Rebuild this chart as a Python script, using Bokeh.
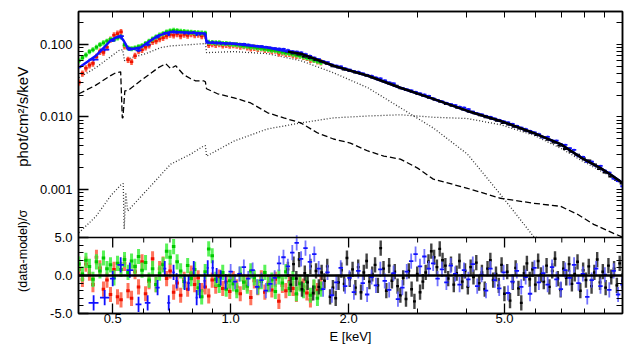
import math
import numpy as np
from bokeh.plotting import figure
from bokeh.layouts import row
from bokeh.models import (FixedTicker, LogAxis, LinearAxis, Range1d, LogScale, Span)
from bokeh.core.properties import value
from bokeh.embed import file_html
from bokeh.resources import INLINE

FONT = "Liberation Sans"

# ---------------- axis ticks / ranges ----------------
x_major = [0.5, 1.0, 2.0, 5.0]
x_major_labels = ["0.5", "1.0", "2.0", "5.0"]
x_minor = [0.6, 0.7, 0.8, 0.9, 3.0, 4.0, 6.0, 7.0, 8.0, 9.0]
y_major = [0.001, 0.01, 0.1]
y_major_labels = ["0.001", "0.010", "0.100"]
y_minor = [m * 10.0 ** k for k in (-4, -3, -2, -1) for m in range(2, 10)]
r_major = [-5.0, 0.0, 5.0]
r_major_labels = ["-5.0", "0.0", "5.0"]
r_minor = [-4, -3, -2, -1, 1, 2, 3, 4]
axis_titles = ["phot/cm²/s/keV", "(data-model)/σ"]

E_LO, E_HI = 0.409, 10.0
FLUX_LO, FLUX_HI = 2.15e-4, 0.287
RES_LO, RES_HI = -5.0, 5.0

# ---------------- model curves ----------------
model_E = [0.41, 0.453, 0.494, 0.509, 0.524, 0.533, 0.549, 0.589, 0.625, 0.654, 0.703, 0.768,
           0.853, 0.862, 0.868, 1.02, 1.24, 1.40, 1.51, 1.83, 2.24, 2.71, 3.29, 4.02, 4.88, 5.93,
           6.95, 7.96, 8.79, 9.4, 10.0]
model_F = [0.048, 0.070, 0.114, 0.125, 0.128, 0.114, 0.085, 0.091, 0.114, 0.133, 0.150, 0.147,
           0.142, 0.141, 0.107, 0.103, 0.091, 0.080, 0.075, 0.051, 0.0371, 0.0253, 0.0178, 0.0121,
           0.0088, 0.0060, 0.0042, 0.0026, 0.00196, 0.00155, 0.00122]

soft_E = [0.41, 0.453, 0.494, 0.518, 0.530, 0.536, 0.549, 0.607, 0.663, 0.703, 0.853, 0.862,
          0.868, 1.02, 1.24, 1.51, 1.83, 2.24, 2.61, 3.29, 4.02, 4.88, 5.93, 6.05]
soft_F = [0.0348, 0.048, 0.068, 0.0825, 0.085, 0.060, 0.064, 0.075, 0.091, 0.096, 0.103, 0.105,
          0.0774, 0.080, 0.075, 0.060, 0.0408, 0.0253, 0.0152, 0.00703, 0.00306, 0.00085,
          0.000222, 0.000216]

hard_E = [0.41, 0.453, 0.494, 0.524, 0.532, 0.535, 0.540, 0.546, 0.589, 0.663, 0.703, 0.791,
          0.853, 0.862, 0.868, 1.02, 1.24, 1.51, 1.83, 2.24, 2.71, 3.29, 4.02, 4.88, 5.93, 6.95,
          7.96, 9.16, 10.0]
hard_F = [0.00025, 0.00042, 0.00081, 0.00114, 0.0012, 0.00028, 0.0009, 0.0005, 0.00078, 0.00157,
          0.00222, 0.00306, 0.00396, 0.0040, 0.00287, 0.00464, 0.0068, 0.00826, 0.0097, 0.0103,
          0.0107, 0.0099, 0.0095, 0.0078, 0.0056, 0.0037, 0.0024, 0.0016, 0.00118]

dash_E = [0.41, 0.453, 0.494, 0.509, 0.524, 0.529, 0.531, 0.537, 0.549, 0.589, 0.654, 0.683,
          0.703, 0.724, 0.758, 0.791, 0.814, 0.853, 0.862, 0.868, 0.926, 1.02, 1.125, 1.243,
          1.366, 1.51, 1.667, 1.83, 2.02, 2.24, 2.46, 2.71, 3.00, 3.29, 4.02, 4.88, 5.93, 6.95,
          7.68, 8.44, 9.49, 10.0]
dash_F = [0.0209, 0.0275, 0.0373, 0.0408, 0.042, 0.0097, 0.0097, 0.0229, 0.0235, 0.0316, 0.048,
          0.0545, 0.0464, 0.0511, 0.0386, 0.0337, 0.0316, 0.0316, 0.0306, 0.0245, 0.0209, 0.0184,
          0.0156, 0.0114, 0.0097, 0.00826, 0.0060, 0.00495, 0.00435, 0.00338, 0.00287, 0.00261,
          0.00196, 0.00138, 0.00103, 0.00075, 0.00064, 0.00058, 0.00045, 0.000327, 0.000245,
          0.000218]

# ---------------- data: red ----------------
red_E = np.geomspace(0.41, 1.70, 70)
red_F = [0.030, 0.040, 0.047, 0.052, 0.055, 0.068, 0.080, 0.078, 0.092, 0.118,
         0.135, 0.142, 0.150, 0.095, 0.062, 0.058, 0.070, 0.082, 0.085, 0.092,
         0.098, 0.110, 0.112, 0.120, 0.125, 0.132, 0.138, 0.135, 0.140, 0.132,
         0.138, 0.134, 0.140, 0.136, 0.138, 0.132, 0.134, 0.100, 0.102, 0.100,
         0.102, 0.098, 0.100, 0.097, 0.099, 0.097, 0.094, 0.096, 0.092, 0.089,
         0.091, 0.088, 0.089, 0.085, 0.086, 0.082, 0.083, 0.076, 0.078, 0.075,
         0.075, 0.072, 0.070, 0.071, 0.068, 0.066, 0.062, 0.062, 0.059, 0.057]
red_R = [0.8, -0.5, 1.5, 0.3, -1.2, 2.4, 1.0, -1.8, -0.6, -2.5,
         0.8, -2.8, -3.2, 1.6, -2.0, -3.0, 0.5, -1.5, 1.8, -2.4,
         -0.8, 2.2, -1.2, 0.9, 1.5, -0.4, 0.6, -2.2, -1.0, -2.6,
         -0.5, -1.8, 0.3, -1.2, -0.3, -2.0, -1.5, -2.7, -0.6, -1.4,
         -0.2, -1.7, -0.9, -2.1, -0.4, -1.5, -2.4, -0.8, -1.1, -2.9,
         -0.7, -1.6, -0.3, -2.2, -1.0, -1.9, -0.5, -3.4, -1.3, -2.0,
         -0.8, -1.7, -2.5, -0.9, -1.4, -2.3, -3.2, -1.6, -2.0, -1.1]
red_relerr = 0.10

# ---------------- data: green ----------------
green_E = np.geomspace(0.41, 1.70, 70)
green_F = [0.060, 0.066, 0.072, 0.080, 0.085, 0.092, 0.100, 0.106, 0.112, 0.118,
           0.118, 0.124, 0.128, 0.100, 0.090, 0.088, 0.090, 0.094, 0.097, 0.104,
           0.112, 0.120, 0.128, 0.136, 0.142, 0.150, 0.155, 0.158, 0.156, 0.153,
           0.152, 0.150, 0.149, 0.147, 0.146, 0.145, 0.144, 0.108, 0.107, 0.106,
           0.106, 0.104, 0.104, 0.102, 0.101, 0.100, 0.098, 0.096, 0.095, 0.093,
           0.092, 0.090, 0.089, 0.087, 0.086, 0.084, 0.083, 0.081, 0.079, 0.077,
           0.076, 0.074, 0.072, 0.070, 0.068, 0.066, 0.064, 0.061, 0.059, 0.057]
green_R = [1.5, 0.2, 2.0, 1.2, -0.5, 1.8, 0.6, 2.3, 0.9, 1.4,
           -0.3, 1.6, 0.8, 2.1, 0.4, 1.9, 1.2, 2.5, 0.7, 1.7,
           -0.6, 0.9, -1.2, 0.3, 1.4, 3.2, 2.4, 3.8, 1.8, 0.6,
           -0.8, 1.3, -0.4, 0.8, -1.6, -2.8, 0.5, 3.5, 2.6, -0.5,
           -1.3, 0.4, -1.8, -0.7, -1.1, -2.0, 0.2, -0.9, -1.4, 0.6,
           -0.3, -1.5, -0.8, 0.4, -1.2, -0.6, -2.1, -0.2, -1.0, 0.5,
           -1.7, -0.4, -2.4, -1.1, -2.0, -0.8, -2.6, -1.5, -3.0, -1.8]
green_relerr = 0.08

# ---------------- data: blue (coarse bins below 1 keV) ----------------
blue_lo_E = [0.447, 0.477, 0.500, 0.524, 0.553, 0.582, 0.614, 0.651, 0.679, 0.695, 0.715, 0.728,
             0.763, 0.781, 0.805, 0.819, 0.834, 0.858, 0.874, 0.900, 0.921, 0.943, 0.971]
blue_lo_dE = [0.013, 0.013, 0.008, 0.010, 0.011, 0.010, 0.010, 0.008, 0.006, 0.006, 0.005, 0.005,
              0.006, 0.006, 0.006, 0.005, 0.005, 0.005, 0.005, 0.006, 0.006, 0.006, 0.006]
blue_lo_F = [0.062, 0.085, 0.114, 0.131, 0.088, 0.083, 0.100, 0.128, 0.144, 0.139, 0.151, 0.149,
             0.145, 0.144, 0.147, 0.139, 0.141, 0.140, 0.109, 0.108, 0.106, 0.105, 0.103]
blue_lo_R = [-3.6, -2.9, -0.4, 1.4, 0.7, -3.8, -3.6, -1.6, 0.9, -3.6, 0.4, -0.7,
             -0.9, -1.0, 0.9, -2.9, -2.0, -0.7, 1.0, 1.0, 0.0, -0.3, -0.8]

# ---------------- data: blue (1-10 keV) ----------------
blue_E = np.geomspace(1.0, 10.0, 90)
blue_F = [0.104, 0.103, 0.102, 0.102, 0.100, 0.097, 0.096, 0.095, 0.093, 0.091,
          0.089, 0.088, 0.087, 0.084, 0.081, 0.080, 0.078, 0.074, 0.070, 0.066,
          0.063, 0.059, 0.057, 0.053, 0.051, 0.050, 0.047, 0.045, 0.043, 0.042,
          0.040, 0.038, 0.037, 0.035, 0.034, 0.032, 0.030, 0.029, 0.026, 0.025,
          0.0240, 0.0232, 0.0222, 0.0212, 0.0204, 0.0195, 0.0180, 0.0170, 0.0164, 0.0156,
          0.0150, 0.0145, 0.0138, 0.0134, 0.0128, 0.0118, 0.0112, 0.0108, 0.0103, 0.0100,
          0.0095, 0.0091, 0.0087, 0.0084, 0.0080, 0.0075, 0.0071, 0.0068, 0.0064, 0.0061,
          0.0058, 0.0052, 0.0053, 0.0047, 0.0047, 0.0042, 0.0041, 0.0037, 0.0035, 0.0029,
          0.0028, 0.0024, 0.0024, 0.0021, 0.0021, 0.0018, 0.0017, 0.0014, 0.0013, 0.0011]
blue_R = [0.5, -0.8, 0.2, 1.1, -0.4, 0.7, -1.5, -0.6, -2.0, -1.1,
          -0.3, 1.6, 2.4, 1.2, 3.0, 4.3, 2.2, 3.6, 1.8, 2.8,
          0.9, -1.8, 0.4, -2.6, -0.9, 1.0, -1.4, -0.3, -2.2, 0.6,
          -1.0, -2.5, -0.2, -1.3, 0.8, -0.7, -1.9, 0.3, -3.1, -1.6,
          0.5, 1.9, 2.8, 1.2, 2.5, 0.9, 1.6, -0.4, 0.8, -0.9,
          1.3, 0.2, -1.2, 0.7, -0.5, 1.5, -1.4, 0.1, -2.0, 0.9,
          -0.6, -1.7, 0.4, -2.3, -0.8, 0.6, -1.5, -0.2, -2.4, 1.0,
          -0.9, 0.3, -1.2, 1.1, -0.5, -1.8, 0.7, -0.3, 1.4, -1.0,
          0.2, -2.8, -0.6, 0.9, -1.4, 0.1, -1.9, 0.6, -2.5, -1.2]
blue_relerr = 0.04

# ---------------- data: black (1.4-10 keV) ----------------
black_E = np.geomspace(1.4, 10.0, 60)
black_F = [0.080, 0.076, 0.073, 0.068, 0.065, 0.061, 0.058, 0.054, 0.050, 0.048,
           0.045, 0.043, 0.041, 0.039, 0.037, 0.035, 0.033, 0.031, 0.029, 0.027,
           0.0248, 0.0235, 0.0222, 0.0207, 0.0196, 0.0183, 0.0172, 0.0161, 0.0151, 0.0142,
           0.0133, 0.0126, 0.0118, 0.0112, 0.0105, 0.0099, 0.0094, 0.0088, 0.0082, 0.0078,
           0.0073, 0.0069, 0.0064, 0.0060, 0.0056, 0.0052, 0.0048, 0.0044, 0.0040, 0.0036,
           0.0033, 0.0030, 0.0027, 0.0025, 0.0022, 0.0019, 0.0017, 0.0015, 0.00135, 0.0012]
black_relerr = 0.03
black_rE = np.geomspace(1.4, 10.0, 120)
black_R = [0.8, -1.2, 1.5, -0.4, 2.1, -1.8, 0.3, -0.9, 1.2, -2.3,
           0.6, -1.5, 0.4, -0.7, 1.2, -2.8, -1.6, -3.0, -0.9, 0.7,
           -1.1, 2.3, -0.5, 0.8, -1.6, 1.1, -2.2, 0.4, 1.9, -0.8,
           0.2, 1.4, -1.3, 3.6, 0.9, -2.0, 1.3, -0.7, 0.5, -1.4,
           -2.6, -0.3, -3.1, 0.6, -1.8, -3.4, 0.2, -2.2, -0.8, 0.4,
           1.8, 3.2, 2.4, 1.1, 3.5, 2.0, 1.3, -0.4, 1.5, -1.2,
           0.3, 1.9, -0.8, 0.6, -1.5, 1.1, -0.2, 1.7, -1.0, 0.4,
           -1.8, 0.9, 2.0, -0.6, 0.2, -1.3, 1.4, -2.4, 0.5, -3.3,
           -0.9, 1.0, -1.7, -3.6, 0.3, 1.6, -0.5, 0.8, -1.2, 1.9,
           0.1, -0.8, 1.3, -1.5, 0.6, 2.2, -0.4, -1.9, 0.9, -0.3,
           1.5, -1.1, 0.2, 1.8, -2.0, 0.7, -0.6, 1.2, -1.4, 0.4,
           2.1, -0.9, 0.5, -1.6, 1.3, -0.2, 0.9, -1.3, 1.6, -0.7]

# ---------------- colours / layout constants ----------------
RED, RED_BAR = "#ee1100", "#ff5a40"
GRN, GRN_BAR = "#00c800", "#3cf03c"
BLU, BLU_BAR = "#1010ff", "#5a5aff"
BLK, BLK_BAR = "#000000", "#555555"

TITLE_W = 36                        # strip holding the two vertical axis titles
FRAME_W = 544
UPPER_H, LOWER_H = 226, 76          # pixel heights of the two panels
LEFT_B, TOP_B, RIGHT_B = 78 - TITLE_W, 11, 6
PAGE_H = 340

res_per_px = (RES_HI - RES_LO) / LOWER_H
RES_TOP = RES_HI + UPPER_H * res_per_px
flux_decades = math.log10(FLUX_HI / FLUX_LO)
FLUX_BOTTOM = FLUX_LO / 10 ** (flux_decades * LOWER_H / UPPER_H)


def flux_to_res(f):
    return round(RES_HI + math.log10(f / FLUX_LO) * (RES_TOP - RES_HI) / flux_decades, 4)


def edges(E):
    E = np.asarray(E, dtype=float)
    r = np.sqrt(E[1] / E[0])
    return E / r, E * r


p = figure(frame_width=FRAME_W, frame_height=UPPER_H + LOWER_H,
           x_axis_type="log", x_range=Range1d(E_LO, E_HI), y_range=Range1d(RES_LO, RES_TOP),
           extra_y_ranges={"flux": Range1d(FLUX_BOTTOM, FLUX_HI)},
           extra_y_scales={"flux": LogScale()},
           output_backend="svg", toolbar_location=None,
           min_border_left=LEFT_B, min_border_right=RIGHT_B, min_border_top=TOP_B,
           min_border_bottom=0)
p.grid.visible = False
p.outline_line_color = "black"
p.outline_line_width = 1.5
p.background_fill_color = "white"
p.border_fill_color = "white"


def style_axis(ax):
    ax.axis_line_width = 1.5
    ax.major_tick_in = 10
    ax.major_tick_out = 0
    ax.minor_tick_in = 5
    ax.minor_tick_out = 0
    ax.major_tick_line_width = 1.3
    ax.minor_tick_line_width = 1.0
    ax.major_label_text_font = FONT
    ax.major_label_text_font_size = "13px"
    ax.major_label_text_color = "black"
    ax.axis_label_text_font = FONT
    ax.axis_label_text_font_size = "13px"
    ax.axis_label_text_font_style = "normal"
    ax.axis_label_text_color = "black"


def tick_only_axis(cls, ticks):
    ax = cls(ticker=FixedTicker(ticks=[], minor_ticks=ticks))
    ax.axis_line_width = 1.5
    ax.major_tick_in = 0
    ax.major_tick_out = 0
    ax.minor_tick_in = 6
    ax.minor_tick_out = 0
    ax.minor_tick_line_width = 1.0
    ax.major_label_standoff = 0
    return ax


# ---- bottom x axis
xa = p.xaxis[0]
xa.ticker = FixedTicker(ticks=x_major, minor_ticks=x_minor)
xa.major_label_overrides = dict(zip(x_major, x_major_labels))
xa.axis_label = "E [keV]"
style_axis(xa)
xa.major_label_standoff = 0
xa.axis_label_standoff = 3

# ---- left axis: residual ticks + flux ticks on one axis
flux_major_pos = [flux_to_res(f) for f in y_major]
flux_minor_pos = [flux_to_res(f) for f in y_minor if FLUX_LO <= f <= FLUX_HI]
left_major = r_major + flux_major_pos
left_minor = r_minor + flux_minor_pos
ya = p.yaxis[0]
ya.ticker = FixedTicker(ticks=left_major, minor_ticks=left_minor)
ya.major_label_overrides = dict(zip(left_major, r_major_labels + y_major_labels))
style_axis(ya)
ya.major_label_standoff = 6

p.add_layout(tick_only_axis(LogAxis, x_major + x_minor), "above")
p.add_layout(tick_only_axis(LinearAxis, left_major + left_minor), "right")

# panel divider with the residual panel's top ticks
p.add_layout(Span(location=RES_HI, dimension="width", line_color="black", line_width=1.5))
p.segment(x_major, [RES_HI] * len(x_major), x_major,
          [RES_HI - 10 * res_per_px] * len(x_major), line_color="black", line_width=1.3)
p.segment(x_minor, [RES_HI] * len(x_minor), x_minor,
          [RES_HI - 5 * res_per_px] * len(x_minor), line_color="black", line_width=1.0)

# ---- upper panel: components
p.line(soft_E, soft_F, y_range_name="flux", line_color="#333333", line_dash="1 2", line_width=1.3)
p.line(hard_E, hard_F, y_range_name="flux", line_color="#333333", line_dash="1 2", line_width=1.3)
p.line(dash_E, dash_F, y_range_name="flux", line_color="black", line_dash="6 3", line_width=1.3)


def upper(E, F, rel, col, barcol, w=1.8, lo=None, hi=None):
    E = np.asarray(E, dtype=float)
    F = np.asarray(F, dtype=float)
    if lo is None:
        lo, hi = edges(E)
    p.segment(E, F * (1 - rel), E, F * (1 + rel), y_range_name="flux",
              line_color=barcol, line_width=w)
    p.segment(lo, F, hi, F, y_range_name="flux", line_color=col, line_width=w)


upper(red_E, red_F, red_relerr, RED, RED_BAR, w=2.6)
upper(green_E, green_F, green_relerr, GRN, GRN_BAR, w=2.6)
upper(black_E, black_F, black_relerr, BLK, BLK_BAR)
bl = np.asarray(blue_lo_E)
bd = np.asarray(blue_lo_dE)
upper(blue_lo_E, blue_lo_F, 0.05, BLU, BLU, lo=bl - bd, hi=bl + bd)
upper(blue_E, blue_F, blue_relerr, BLU, BLU_BAR)

mE = np.asarray(model_E)
mF = np.asarray(model_F)
p.line(mE, mF, y_range_name="flux", line_color=BLU, line_width=2.5)
k = mE >= 1.4
p.line(mE[k], mF[k], y_range_name="flux", line_color="black", line_width=2.5)


# ---- lower panel: residuals
def lower(E, R, col, barcol, w=1.8, lo=None, hi=None, alpha=0.85):
    E = np.asarray(E, dtype=float)
    R = np.asarray(R, dtype=float)
    if lo is None:
        lo, hi = edges(E)
    p.segment(E, R - 1, E, R + 1, line_color=barcol, line_width=w, line_alpha=alpha)
    p.segment(lo, R, hi, R, line_color=col, line_width=w)


lower(red_E, red_R, RED, RED_BAR, w=3.0)
lower(green_E, green_R, GRN, GRN_BAR, w=3.0)
lower(black_rE, black_R, BLK, "#222222", w=2.4)
lower(blue_E, blue_R, BLU, BLU_BAR, w=1.8)
lower(blue_lo_E, blue_lo_R, BLU, BLU, w=1.8, lo=bl - bd, hi=bl + bd, alpha=1.0)

p.add_layout(Span(location=0.0, dimension="width", line_color="black", line_width=2.5))

# ---- narrow strip on the left carrying the two vertical axis titles (pixel coordinates)
t = figure(width=TITLE_W, height=PAGE_H, x_range=Range1d(0, TITLE_W), y_range=Range1d(PAGE_H, 0),
           x_axis_location=None, y_axis_location=None, output_backend="svg",
           toolbar_location=None, min_border=0)
t.grid.visible = False
t.outline_line_color = None
t.background_fill_color = "white"
t.border_fill_color = "white"
t.text(x=[22], y=[121], text=[axis_titles[0]], angle=math.pi / 2,
       text_align="center", text_baseline="middle", text_font=value(FONT),
       text_font_size="15px", text_color="black")
t.text(x=[22], y=[275], text=[axis_titles[1]], angle=math.pi / 2,
       text_align="center", text_baseline="middle", text_font=value(FONT),
       text_font_size="12.5px", text_color="black")

layout = row(t, p, spacing=0)
open("out.html", "w").write(file_html(layout, INLINE))
